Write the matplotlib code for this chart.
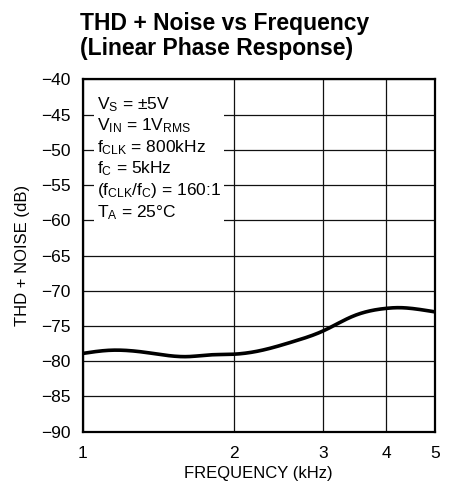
import matplotlib
matplotlib.use("Agg")
import matplotlib.pyplot as plt
from matplotlib import font_manager as fm
import numpy as np

names = {f.name for f in fm.fontManager.ttflist}
FONT = "Liberation Sans Narrow" if "Liberation Sans Narrow" in names else "Liberation Sans"
plt.rcParams['font.family'] = [FONT, 'DejaVu Sans']
plt.rcParams['mathtext.fontset'] = 'custom'
plt.rcParams['mathtext.rm'] = FONT
plt.rcParams['mathtext.it'] = FONT
plt.rcParams['axes.unicode_minus'] = True

# data
freq_khz = [1.0, 1.13, 1.35, 1.61, 1.79, 2.0, 2.25, 2.62, 3.0, 3.44, 4.0, 4.23, 4.6, 5.0]
thd_db = [-78.9, -78.45, -78.8, -79.35, -79.1, -79.0, -78.5, -77.2, -75.7, -73.6, -72.5, -72.4, -72.6, -73.0]
xticks = [1, 2, 3, 4, 5]
yticks = list(range(-90, -39, 5))
title = "THD + Noise vs Frequency\n(Linear Phase Response)"
notes = [r"V$_\mathrm{S}$ = ±5V",
         r"V$_\mathrm{IN}$ = 1V$_\mathrm{RMS}$",
         r"f$_\mathrm{CLK}$ = 800kHz",
         r"f$_\mathrm{C}$ = 5kHz",
         r"(f$_\mathrm{CLK}$/f$_\mathrm{C}$) = 160:1",
         r"T$_\mathrm{A}$ = 25°C"]

fig = plt.figure(figsize=(4.56, 4.87), dpi=100)
ax = fig.add_axes([0.181, 0.1136, 0.773, 0.7234])

def spline(x, y, xn):
    x = np.asarray(x); y = np.asarray(y)
    n = len(x)
    h = np.diff(x)
    A = np.zeros((n, n)); b = np.zeros(n)
    A[0, 0] = 1; A[-1, -1] = 1
    for i in range(1, n - 1):
        A[i, i - 1] = h[i - 1]; A[i, i] = 2 * (h[i - 1] + h[i]); A[i, i + 1] = h[i]
        b[i] = 3 * ((y[i + 1] - y[i]) / h[i] - (y[i] - y[i - 1]) / h[i - 1])
    c = np.linalg.solve(A, b)
    out = np.empty_like(xn)
    for k, xv in enumerate(xn):
        i = min(np.searchsorted(x, xv) - 1, n - 2); i = max(i, 0)
        dx = xv - x[i]
        bb = (y[i + 1] - y[i]) / h[i] - h[i] * (2 * c[i] + c[i + 1]) / 3
        d = (c[i + 1] - c[i]) / (3 * h[i])
        out[k] = y[i] + bb * dx + c[i] * dx ** 2 + d * dx ** 3
    return out

lx = np.log10(freq_khz)
xs = np.linspace(lx[0], lx[-1], 300)
ys = spline(lx, thd_db, xs)
ax.plot(10 ** xs, ys, color="black", lw=2.6, solid_capstyle="butt", zorder=4)

ax.set_xscale("log")
ax.set_xlim(1, 5)
ax.set_ylim(-90, -40)
ax.set_xticks(xticks)
ax.set_xticklabels([str(t) for t in xticks])
ax.xaxis.set_minor_locator(matplotlib.ticker.NullLocator())
ax.set_yticks(yticks)
ax.set_yticklabels([f"−{abs(t)}" for t in yticks])
ax.tick_params(axis="y", length=0, labelsize=12.5, pad=8.5)
ax.tick_params(axis="x", length=0, labelsize=12.5, pad=10)
ax.grid(True, color="#111111", lw=0.9, zorder=1)
for s in ax.spines.values():
    s.set_linewidth(1.6)
ax.set_xlabel("FREQUENCY (kHz)", fontsize=12, labelpad=4)
ax.set_ylabel("THD + NOISE (dB)", fontsize=12, labelpad=8)

ax.text(0.04, 0.955, "\n".join(notes), transform=ax.transAxes, fontsize=12.5,
        va="top", ha="left", linespacing=1.2, zorder=3,
        bbox=dict(facecolor="white", edgecolor="none", pad=2))

fig.text(0.175, 0.975, title, fontsize=16.5, fontweight="bold", va="top", ha="left",
         linespacing=1.1)

fig.savefig("out.png", dpi=100)
